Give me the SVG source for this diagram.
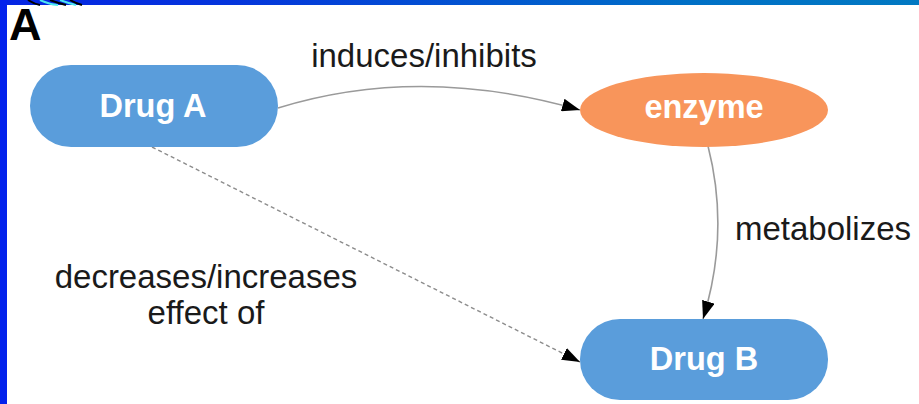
<svg xmlns="http://www.w3.org/2000/svg" width="919" height="404" viewBox="0 0 919 404">
  <style>
    .node-text { font-family: "Liberation Sans", Arial, sans-serif; font-weight: bold; font-size: 32.5px; fill: #ffffff; text-anchor: middle; }
    .label { font-family: "Liberation Sans", Arial, sans-serif; font-size: 33px; fill: #1a1a1a; text-anchor: middle; }
    .drug { fill: #5a9ddb; }
    .enzyme { fill: #f8955b; }
    .edge { fill: none; stroke: #9a9a9a; stroke-width: 1.6; }
    .dashed { fill: none; stroke: #8c8c8c; stroke-width: 1.4; stroke-dasharray: 4 3; }
  </style>
  <defs>
    <linearGradient id="band" x1="0" y1="0" x2="1" y2="0">
      <stop offset="0" stop-color="#0524e4"/>
      <stop offset="0.25" stop-color="#0535dc"/>
      <stop offset="0.75" stop-color="#0070c6"/>
      <stop offset="1" stop-color="#0279c2"/>
    </linearGradient>
    <marker id="arrow" viewBox="0 0 18 13" refX="18" refY="6.5" markerWidth="18" markerHeight="13" markerUnits="userSpaceOnUse" orient="auto">
      <path d="M0,0 L18,6.5 L0,13 Z" fill="#000000"/>
    </marker>
  </defs>

  <rect x="0" y="0" width="919" height="404" fill="#ffffff"/>

  <!-- frame -->
  <rect x="0" y="0" width="919" height="5" fill="url(#band)"/>
  <rect x="0" y="0" width="7" height="404" fill="#0322ec"/>
  <g fill="none" stroke-width="2">
    <path d="M28,0 Q34,4 40,5" stroke="#000000"/>
    <path d="M40,0 Q48,4 58,5" stroke="#4ee8f0"/>
    <path d="M50,0 Q58,3 66,5" stroke="#000000"/>
    <path d="M60,0 Q68,3 76,5" stroke="#4ee8f0"/>
    <path d="M70,0 Q75,3 82,5" stroke="#000000"/>
  </g>
  <text x="9" y="40" font-family="Liberation Sans, Arial, sans-serif" font-weight="bold" font-size="45" fill="#000000">A</text>

  <!-- connectors -->
  <g id="connectors">
    <path class="edge" d="M278,108 Q420,64 580,110" marker-end="url(#arrow)"/>
    <path class="edge" d="M708,146 Q730,232 703,319" marker-end="url(#arrow)"/>
    <path class="dashed" d="M152,147 L580,362" marker-end="url(#arrow)"/>
    <text class="label" x="424" y="67">induces/inhibits</text>
    <text class="label" x="823" y="240">metabolizes</text>
    <text class="label" x="206" y="288">decreases/increases</text>
    <text class="label" x="206" y="324">effect of</text>
  </g>

  <!-- nodes -->
  <g id="drugA">
    <rect class="drug" x="30" y="65" width="248" height="82" rx="41" ry="41"/>
    <text class="node-text" x="153" y="117">Drug A</text>
  </g>
  <g id="enzyme">
    <ellipse class="enzyme" cx="704" cy="110" rx="124" ry="37"/>
    <text class="node-text" x="704" y="118">enzyme</text>
  </g>
  <g id="drugB">
    <rect class="drug" x="580" y="319" width="248" height="81" rx="40" ry="40"/>
    <text class="node-text" x="704" y="370">Drug B</text>
  </g>
</svg>
